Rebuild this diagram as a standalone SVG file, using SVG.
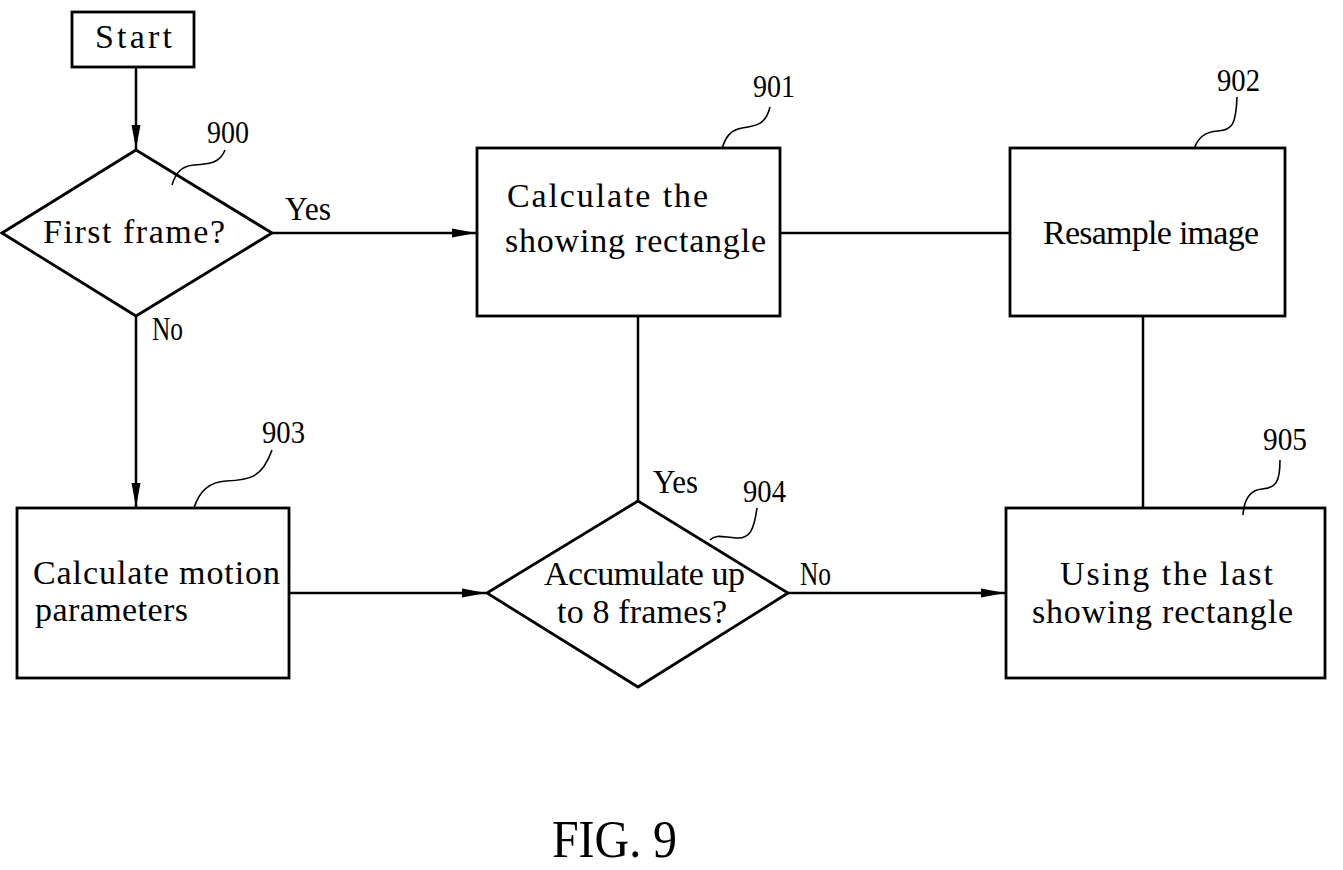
<svg xmlns="http://www.w3.org/2000/svg" width="1343" height="870" viewBox="0 0 1343 870">
<style>
.box{fill:#fff;stroke:#000;stroke-width:2.8}
.con{fill:none;stroke:#000;stroke-width:2.5}
.lead{fill:none;stroke:#000;stroke-width:1.6}
text{font-family:"Liberation Serif","DejaVu Serif",serif;fill:#000}
.t{font-size:34px}
.n{font-size:31px}
.fig{font-size:52px}
</style>
<defs>
<marker id="arr" markerUnits="userSpaceOnUse" markerWidth="26" markerHeight="10" refX="24" refY="5" orient="auto">
<path d="M0,0.5 L24,5 L0,9.5 z" fill="#000"/>
</marker>
</defs>
<rect width="1343" height="870" fill="#fff"/>
<g id="connectors">
<line class="con" x1="136" y1="67" x2="136" y2="149" marker-end="url(#arr)"/>
<line class="con" x1="272" y1="233" x2="476" y2="233" marker-end="url(#arr)"/>
<line class="con" x1="136" y1="316" x2="136" y2="507" marker-end="url(#arr)"/>
<line class="con" x1="780" y1="233" x2="1010" y2="233"/>
<line class="con" x1="638" y1="316" x2="638" y2="501"/>
<line class="con" x1="1143" y1="316" x2="1143" y2="508"/>
<line class="con" x1="289" y1="593" x2="486" y2="593" marker-end="url(#arr)"/>
<line class="con" x1="788" y1="593" x2="1005" y2="593" marker-end="url(#arr)"/>
<text class="t" x="285" y="220" textLength="46" lengthAdjust="spacingAndGlyphs">Yes</text>
<text class="t" x="152" y="340" textLength="31" lengthAdjust="spacingAndGlyphs">No</text>
<text class="t" x="653" y="493" textLength="45" lengthAdjust="spacingAndGlyphs">Yes</text>
<text class="t" x="800" y="585" textLength="31" lengthAdjust="spacingAndGlyphs">No</text>
</g>
<g id="start">
<rect class="box" x="72" y="12" width="122" height="55" stroke-width="3.2"/>
<text class="t" x="95" y="48" textLength="77" lengthAdjust="spacing">Start</text>
</g>
<g id="n900">
<polygon class="box" points="136,150 272,233 136,316 2,233"/>
<text class="t" x="43" y="243" textLength="182" lengthAdjust="spacing">First frame?</text>
<path class="lead" d="M172,185 C176,172 182,166 194,165 C210,164 220,163 225,150"/>
<text class="n" x="207" y="143" textLength="42" lengthAdjust="spacingAndGlyphs">900</text>
</g>
<g id="n901">
<rect class="box" x="477" y="148" width="303" height="168"/>
<text class="t" x="507" y="207" textLength="201" lengthAdjust="spacing">Calculate the</text>
<text class="t" x="505" y="252" textLength="261" lengthAdjust="spacing">showing rectangle</text>
<path class="lead" d="M722,149 C725,138 730,130 742,128 C757,126 766,124 770,107"/>
<text class="n" x="753" y="97" textLength="42" lengthAdjust="spacingAndGlyphs">901</text>
</g>
<g id="n902">
<rect class="box" x="1010" y="148" width="275" height="168"/>
<text class="t" x="1043" y="244" textLength="216" lengthAdjust="spacing">Resample image</text>
<path class="lead" d="M1194,149 C1198,138 1204,132 1218,131 C1232,130 1236,125 1237,97"/>
<text class="n" x="1217" y="91" textLength="43" lengthAdjust="spacingAndGlyphs">902</text>
</g>
<g id="n903">
<rect class="box" x="17" y="508" width="272" height="170"/>
<text class="t" x="33" y="584" textLength="247" lengthAdjust="spacing">Calculate motion</text>
<text class="t" x="35" y="621" textLength="153" lengthAdjust="spacing">parameters</text>
<path class="lead" d="M194,508 C198,495 206,482 226,481 C250,480 262,478 272,450"/>
<text class="n" x="262" y="443" textLength="43" lengthAdjust="spacingAndGlyphs">903</text>
</g>
<g id="n904">
<polygon class="box" points="638,501 788,593 638,687 487,593"/>
<text class="t" x="544" y="585" textLength="201" lengthAdjust="spacing">Accumulate up</text>
<text class="t" x="557" y="623" textLength="170" lengthAdjust="spacing">to 8 frames?</text>
<path class="lead" d="M710,540 C716,534 722,537 736,538 C750,539 754,530 757,508"/>
<text class="n" x="743" y="502" textLength="43" lengthAdjust="spacingAndGlyphs">904</text>
</g>
<g id="n905">
<rect class="box" x="1006" y="508" width="319" height="170"/>
<text class="t" x="1060" y="585" textLength="213" lengthAdjust="spacing">Using the last</text>
<text class="t" x="1032" y="623" textLength="261" lengthAdjust="spacing">showing rectangle</text>
<path class="lead" d="M1243,515 C1244,500 1250,490 1262,489 C1276,488 1280,482 1280,460"/>
<text class="n" x="1263" y="450" textLength="44" lengthAdjust="spacingAndGlyphs">905</text>
</g>
<text class="fig" x="552" y="857" textLength="125" lengthAdjust="spacingAndGlyphs">FIG. 9</text>
</svg>
